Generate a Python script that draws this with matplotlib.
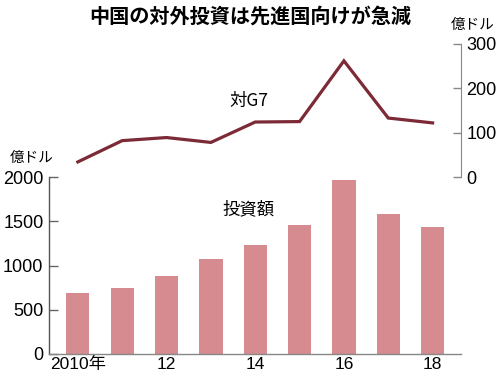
import matplotlib
matplotlib.use("Agg")
import matplotlib.pyplot as plt

years = [2010, 2011, 2012, 2013, 2014, 2015, 2016, 2017, 2018]
invest = [688, 747, 878, 1078, 1231, 1457, 1962, 1583, 1430]
g7 = [34, 82, 89, 78, 124, 125, 262, 133, 122]
xtick_pos = [2010, 2012, 2014, 2016, 2018]
xtick_labels = ["2010年", "12", "14", "16", "18"]
left_ticks = [0, 500, 1000, 1500, 2000]
right_ticks = [0, 100, 200, 300]

W, H = 500, 386
NUM = ['Liberation Sans Narrow', 'Liberation Sans', 'Noto Sans CJK JP']
JP = ['Noto Sans CJK JP', 'DejaVu Sans']
plt.rcParams['font.family'] = NUM

bar_color = '#d58b8f'
line_color = '#7b2a36'

fig = plt.figure(figsize=(W / 100, H / 100), dpi=100)

def px(x0, y0, x1, y1):
    return [x0 / W, 1 - y1 / H, (x1 - x0) / W, (y1 - y0) / H]

ax = fig.add_axes(px(49, 177, 461, 354))
ax2 = fig.add_axes(px(49, 44, 461, 177))

ax.bar(years, invest, width=0.525, color=bar_color)
ax.set_xlim(2009.35, 2018.64)
ax.set_ylim(0, 2000)
ax.set_yticks(left_ticks)
ax.set_yticklabels([str(t) for t in left_ticks])
ax.set_xticks(xtick_pos)
ax.set_xticklabels(xtick_labels)
ax.tick_params(axis='y', direction='in', length=6.5, width=1, color='#666666',
               labelsize=13, pad=4)
ax.tick_params(axis='x', length=0, labelsize=12.5, pad=2)
for s in ['top', 'right']:
    ax.spines[s].set_visible(False)
ax.spines['left'].set_color('#555555')
ax.spines['bottom'].set_color('#888888')
ax.spines['left'].set_linewidth(1)
ax.spines['bottom'].set_linewidth(1)
ax.patch.set_alpha(0)

ax2.plot(years, g7, color=line_color, lw=2.3, solid_joinstyle='miter')
ax2.set_xlim(2009.35, 2018.64)
ax2.set_ylim(0, 300)
ax2.set_xticks([])
ax2.yaxis.tick_right()
ax2.set_yticks(right_ticks)
ax2.set_yticklabels([str(t) for t in right_ticks])
ax2.tick_params(axis='y', direction='in', length=6, width=1, color='#888888',
                labelsize=13, pad=4)
for s in ['top', 'left', 'bottom']:
    ax2.spines[s].set_visible(False)
ax2.spines['right'].set_color('#888888')
ax2.patch.set_alpha(0)

fig.text(250 / W, 1 - 16 / H, "中国の対外投資は先進国向けが急減", family=JP,
         fontsize=14.5, fontweight='bold', ha='center', va='center')
fig.text(32 / W, 1 - 158 / H, "億ドル", family=JP, fontsize=10.5,
         ha='center', va='center')
fig.text(473 / W, 1 - 25 / H, "億ドル", family=JP, fontsize=10.5,
         ha='center', va='center')
fig.text(249 / W, 1 - 101 / H, "対G7", family=JP, fontsize=12.5,
         ha='center', va='center')
fig.text(249 / W, 1 - 209 / H, "投資額", family=JP, fontsize=12.5,
         ha='center', va='center')

fig.savefig("out.png", dpi=100)
